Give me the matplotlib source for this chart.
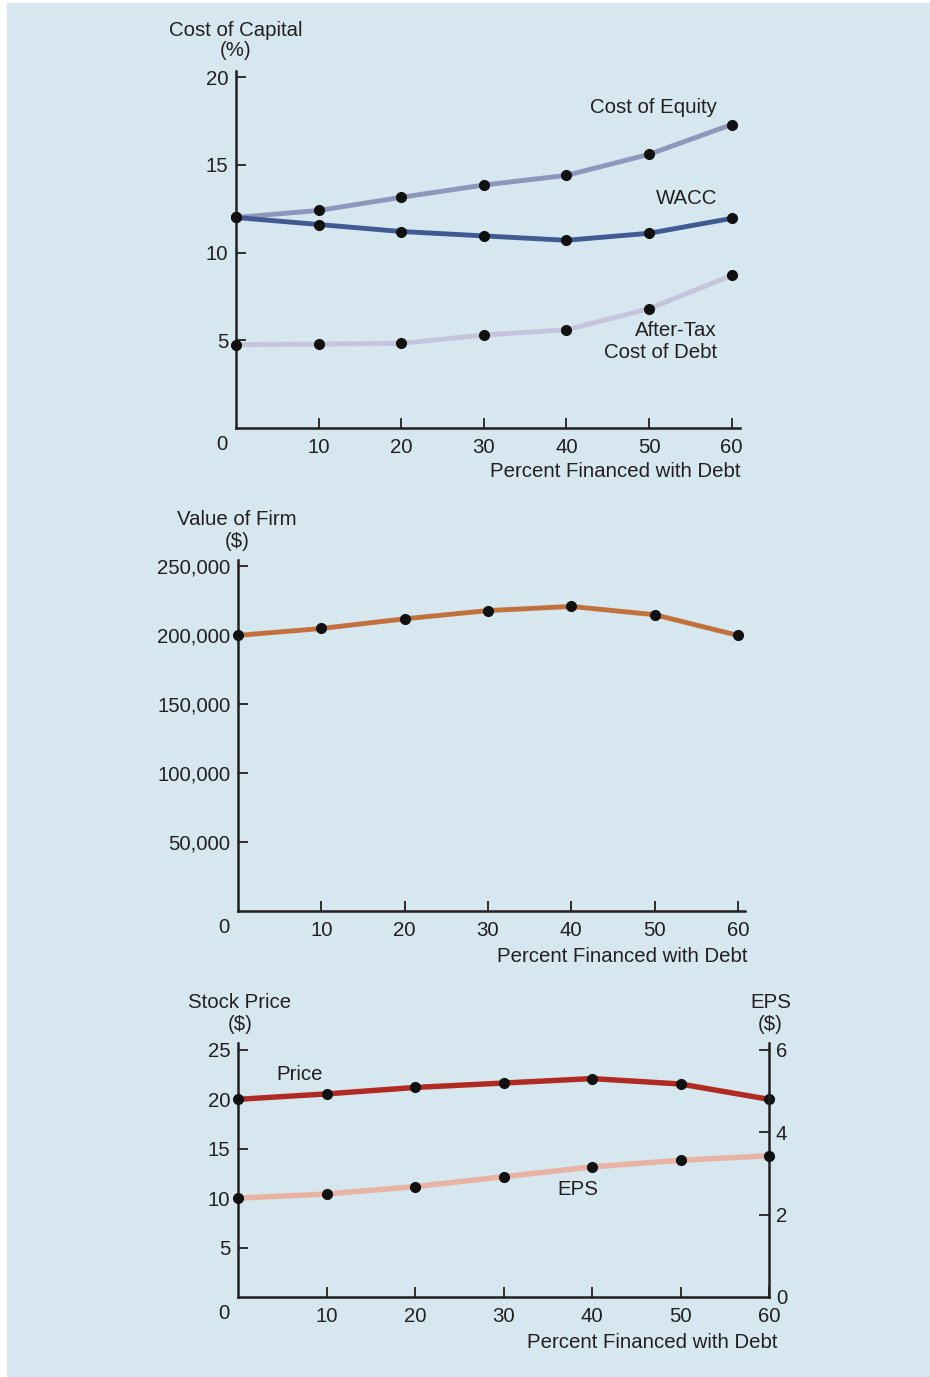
"""
Cost of capital, firm value and stock price vs. percent financed with debt.
"""

import matplotlib
matplotlib.use("Agg")
import matplotlib.pyplot as plt
from matplotlib.patches import Rectangle
from matplotlib.transforms import offset_copy

plt.rcParams["font.family"] = ["Liberation Sans", "DejaVu Sans"]

# data
debt_pct = [0, 10, 20, 30, 40, 50, 60]
cost_equity = [12.0, 12.4, 13.15, 13.85, 14.4, 15.6, 17.3]
wacc = [12.0, 11.6, 11.2, 10.95, 10.7, 11.1, 11.95]
cost_debt = [4.75, 4.78, 4.83, 5.3, 5.6, 6.8, 8.7]
firm_value = [200000, 205000, 212000, 218000, 221000, 215000, 200000]
price = [20.0, 20.55, 21.2, 21.65, 22.1, 21.55, 20.0]
eps = [2.40, 2.50, 2.68, 2.92, 3.16, 3.32, 3.43]

BG = "#d6e7f0"
INK = "#231f20"
FS = 14.7

W, H = 930, 1377
fig = plt.figure(figsize=(W / 100, H / 100), dpi=100)
fig.patch.set_facecolor("white")
fig.patches.append(Rectangle((7 / W, 0), 1 - 7 / W, 1 - 3 / H,
                             transform=fig.transFigure, color=BG, zorder=-10))


def ftext(x, y, s, ha="center"):
    # place text by pixel position in the 930x1377 picture
    fig.text(x / W, 1 - y / H, s, ha=ha, va="center", fontsize=FS, color=INK)


def px_axes(x0, y_top, x1, y_bot):
    ax = fig.add_axes([x0 / W, 1 - y_bot / H, (x1 - x0) / W, (y_bot - y_top) / H])
    ax.set_facecolor("none")
    for side in ("top", "right"):
        ax.spines[side].set_visible(False)
    for side in ("left", "bottom"):
        ax.spines[side].set_linewidth(1.8)
        ax.spines[side].set_color(INK)
    ax.tick_params(direction="in", length=7, width=1.3, color=INK,
                   labelsize=FS, labelcolor=INK)
    ax.tick_params(axis="y", pad=5.5)
    ax.tick_params(axis="x", pad=7.5)
    ax.set_xticks([10, 20, 30, 40, 50, 60])
    tr = offset_copy(ax.transAxes, fig=fig, x=-14, y=-16.5, units="dots")
    ax.text(0, 0, "0", transform=tr, ha="center", va="center",
            fontsize=FS, color=INK)
    return ax


def series(ax, y, color, lw=3.5):
    ax.plot(debt_pct, y, color=color, lw=lw, solid_capstyle="butt", zorder=3,
            clip_on=False)
    ax.plot(debt_pct, y, "o", color="#111111", ms=7, zorder=4, clip_on=False)


# panel 1: cost of capital
ax1 = px_axes(236, 71, 740, 428)
ax1.set_xlim(0, 61)
ax1.set_ylim(0, 20.35)
ax1.set_yticks([5, 10, 15, 20])
series(ax1, cost_equity, "#8e96bc")
series(ax1, wacc, "#3f5b92")
series(ax1, cost_debt, "#c6c4dc")
ftext(236, 30, "Cost of Capital")
ftext(236, 51, "(%)")
ax1.text(58.2, 18.29, "Cost of Equity", ha="right", va="center", fontsize=FS, color=INK)
ax1.text(58.2, 13.1, "WACC", ha="right", va="center", fontsize=FS, color=INK)
ax1.text(58.2, 5.53, "After-Tax", ha="right", va="center", fontsize=FS, color=INK)
ax1.text(58.2, 4.33, "Cost of Debt", ha="right", va="center", fontsize=FS, color=INK)
ftext(740, 472, "Percent Financed with Debt", ha="right")

# panel 2: value of firm
ax2 = px_axes(238, 560, 745, 911)
ax2.set_xlim(0, 60.85)
ax2.set_ylim(0, 254700)
ax2.set_yticks([50000, 100000, 150000, 200000, 250000])
ax2.set_yticklabels([f"{v:,}" for v in [50000, 100000, 150000, 200000, 250000]])
series(ax2, firm_value, "#c2703c")
ftext(237, 519, "Value of Firm")
ftext(237, 541, "($)")
ftext(747, 956, "Percent Financed with Debt", ha="right")

# panel 3: stock price and EPS
ax3 = px_axes(238, 1043, 769, 1297)
ax3.set_xlim(0, 60)
ax3.set_ylim(0, 25.7)
ax3.set_yticks([5, 10, 15, 20, 25])
ax3r = ax3.twinx()
ax3r.set_ylim(0, 6 * 25.7 / 25)
ax3r.set_yticks([0, 2, 4, 6])
for side in ("top", "left", "bottom"):
    ax3r.spines[side].set_visible(False)
ax3r.spines["right"].set_linewidth(1.8)
ax3r.spines["right"].set_color(INK)
ax3r.tick_params(direction="in", length=7, width=1.3, color=INK,
                 labelsize=FS, labelcolor=INK, pad=5)
ax3r.yaxis.get_major_ticks()[0].tick2line.set_visible(False)
series(ax3, price, "#b02a22", lw=3.9)
ax3r.plot(debt_pct, eps, color="#e9b2a2", lw=3.9, zorder=3, clip_on=False)
ax3r.plot(debt_pct, eps, "o", color="#111111", ms=7, zorder=4, clip_on=False)
ftext(240, 1003, "Stock Price")
ftext(240, 1024, "($)")
ftext(771, 1003, "EPS")
ftext(770, 1024, "($)")
ax3.text(7.0, 22.5, "Price", ha="center", va="center", fontsize=FS, color=INK)
ax3.text(38.4, 10.86, "EPS", ha="center", va="center", fontsize=FS, color=INK)
ftext(777, 1342, "Percent Financed with Debt", ha="right")

fig.savefig("out.png", dpi=100, facecolor=fig.get_facecolor())
